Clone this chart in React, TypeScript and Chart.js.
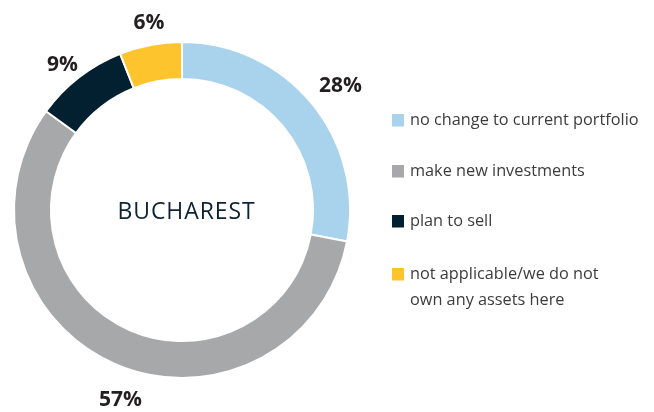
import React, { useEffect, useRef } from "react";
import { Chart, registerables } from "chart.js";

Chart.register(...registerables);

const categories = [
  "no change to current portfolio",
  "make new investments",
  "plan to sell",
  "not applicable/we do not own any assets here",
];
const legendLines = [
  ["no change to current portfolio"],
  ["make new investments"],
  ["plan to sell"],
  ["not applicable/we do not", "own any assets here"],
];
const values = [28, 57, 9, 6];
const valueLabels = ["28%", "57%", "9%", "6%"];
const colors = ["#a9d3ec", "#a7a8aa", "#02202f", "#fec42d"];
const centerTitle = "BUCHAREST";

// label layout (distance beyond ring and small nudges)
const labelGap = [35, 30, 22, 24];
const labelNudge = [
  [2, 3],
  [17, 6],
  [-3, 3],
  [3, 0],
];

const overlayPlugin = {
  id: "overlay",
  afterDraw(chart: any) {
    const ctx = chart.ctx;
    const meta = chart.getDatasetMeta(0);
    ctx.save();
    // percentage labels
    ctx.font = "bold 21px 'Open Sans', sans-serif";
    ctx.fillStyle = "#231f20";
    ctx.textAlign = "center";
    ctx.textBaseline = "alphabetic";
    meta.data.forEach((arc: any, i: number) => {
      const mid = (arc.startAngle + arc.endAngle) / 2;
      const r = arc.outerRadius + labelGap[i];
      const x = arc.x + Math.cos(mid) * r + labelNudge[i][0];
      const y = arc.y + Math.sin(mid) * r + labelNudge[i][1];
      ctx.fillText(valueLabels[i], x, y + 8);
    });
    // center title
    const a0 = meta.data[0];
    ctx.font = "23px 'Open Sans', sans-serif";
    (ctx as any).letterSpacing = "0.9px";
    ctx.fillStyle = "#0d2333";
    ctx.fillText(centerTitle, a0.x + 4.5, a0.y + 9);
    (ctx as any).letterSpacing = "0px";
    // legend
    ctx.textAlign = "left";
    ctx.font = "16.3px 'Open Sans', sans-serif";
    const rowY = [125, 176, 226, 279];
    legendLines.forEach((lines, i) => {
      ctx.fillStyle = colors[i];
      ctx.fillRect(392, rowY[i] - 11, 12, 12.5);
      ctx.fillStyle = "#3c3c3c";
      lines.forEach((t, j) => {
        ctx.fillText(t, 410, rowY[i] + j * 26);
      });
    });
    ctx.restore();
  },
};

export default function App() {
  const ref = useRef<HTMLCanvasElement>(null);
  useEffect(() => {
    if (!ref.current) return;
    const chart = new Chart(ref.current, {
      type: "doughnut",
      data: {
        labels: categories,
        datasets: [
          {
            data: values,
            backgroundColor: colors,
            borderColor: "#ffffff",
            borderWidth: 2,
          },
        ],
      },
      options: {
        animation: false,
        responsive: true,
        maintainAspectRatio: false,
        cutout: "78%",
        layout: { padding: { left: 13, right: 303, top: 41, bottom: 33 } },
        plugins: {
          legend: { display: false },
          tooltip: { enabled: false },
        },
      },
      plugins: [overlayPlugin],
    });
    return () => chart.destroy();
  }, []);
  return (
    <div style={{ position: "fixed", left: 0, top: 0, width: 654, height: 412, background: "#fff" }}>
      <canvas ref={ref} />
    </div>
  );
}
